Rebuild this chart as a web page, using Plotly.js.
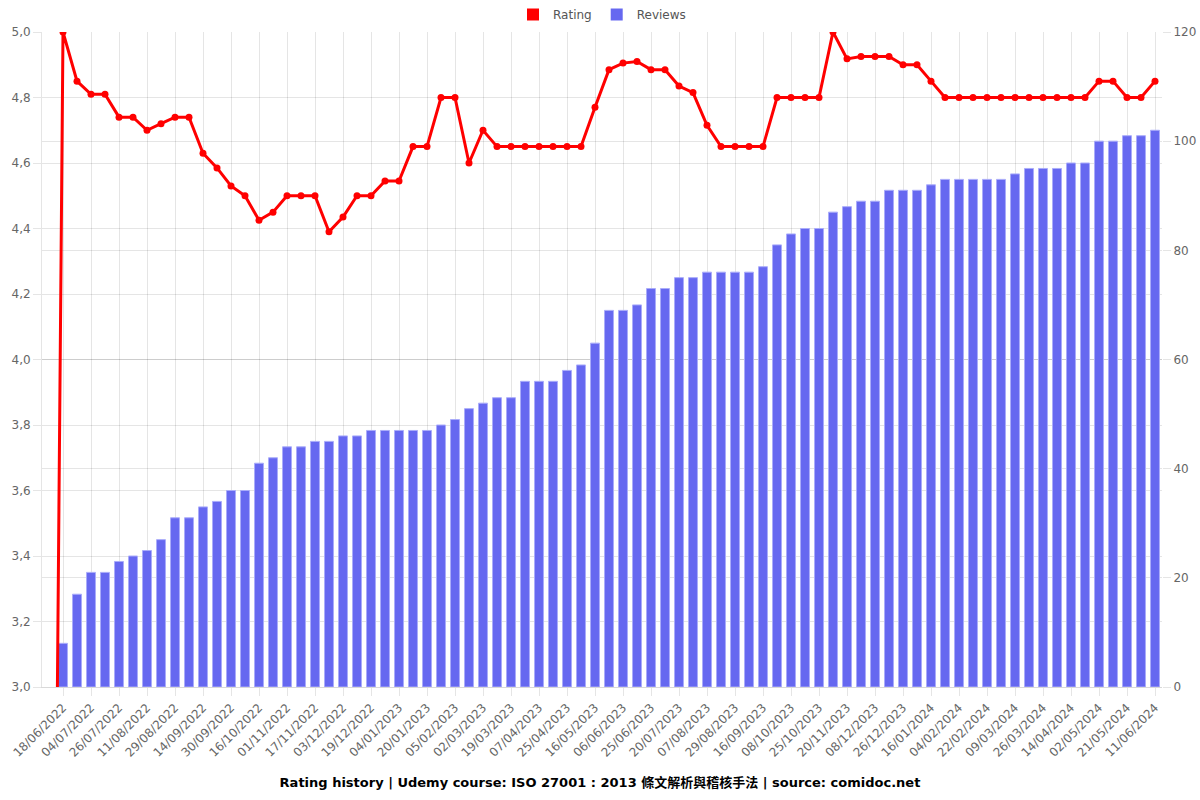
<!DOCTYPE html>
<html>
<head>
<meta charset="utf-8">
<script src="https://cdn.plot.ly/plotly-3.0.1.min.js"></script>
<style>
  html, body { margin: 0; padding: 0; background: #fff; }
  #chart { width: 1200px; height: 800px; }
</style>
</head>
<body>
<div id="chart"></div>
<script>
// Categories (dates). The first one is the course start point (rating 0, no reviews);
// tick labels are shown on every second category, as in the reference.
const dates = [
  "10/06/2022",
  "18/06/2022", "26/06/2022", "04/07/2022", "15/07/2022", "26/07/2022", "03/08/2022",
  "11/08/2022", "20/08/2022", "29/08/2022", "06/09/2022", "14/09/2022", "22/09/2022",
  "30/09/2022", "08/10/2022", "16/10/2022", "24/10/2022", "01/11/2022", "09/11/2022",
  "17/11/2022", "25/11/2022", "03/12/2022", "11/12/2022", "19/12/2022", "27/12/2022",
  "04/01/2023", "12/01/2023", "20/01/2023", "28/01/2023", "05/02/2023", "17/02/2023",
  "02/03/2023", "10/03/2023", "19/03/2023", "29/03/2023", "07/04/2023", "16/04/2023",
  "25/04/2023", "05/05/2023", "16/05/2023", "27/05/2023", "06/06/2023", "15/06/2023",
  "25/06/2023", "07/07/2023", "20/07/2023", "29/07/2023", "07/08/2023", "18/08/2023",
  "29/08/2023", "07/09/2023", "16/09/2023", "27/09/2023", "08/10/2023", "16/10/2023",
  "25/10/2023", "07/11/2023", "20/11/2023", "29/11/2023", "08/12/2023", "17/12/2023",
  "26/12/2023", "06/01/2024", "16/01/2024", "25/01/2024", "04/02/2024", "13/02/2024",
  "22/02/2024", "01/03/2024", "09/03/2024", "17/03/2024", "26/03/2024", "04/04/2024",
  "14/04/2024", "23/04/2024", "02/05/2024", "11/05/2024", "21/05/2024", "31/05/2024",
  "11/06/2024"
];

const ratings = [
  0,
  5.00, 4.85, 4.81, 4.81, 4.74, 4.74, 4.70, 4.72, 4.74, 4.74,
  4.63, 4.585, 4.53, 4.50, 4.425, 4.45, 4.50, 4.50, 4.50, 4.39,
  4.435, 4.50, 4.50, 4.545, 4.545, 4.65, 4.65, 4.80, 4.80, 4.60,
  4.70, 4.65, 4.65, 4.65, 4.65, 4.65, 4.65, 4.65, 4.77, 4.885,
  4.905, 4.91, 4.885, 4.885, 4.835, 4.815, 4.715, 4.65, 4.65, 4.65,
  4.65, 4.80, 4.80, 4.80, 4.80, 5.00, 4.918, 4.925, 4.925, 4.925,
  4.90, 4.90, 4.85, 4.80, 4.80, 4.80, 4.80, 4.80, 4.80, 4.80,
  4.80, 4.80, 4.80, 4.80, 4.85, 4.85, 4.80, 4.80, 4.85
];

const reviews = [
  null,
  8, 17, 21, 21, 23, 24, 25, 27, 31, 31,
  33, 34, 36, 36, 41, 42, 44, 44, 45, 45,
  46, 46, 47, 47, 47, 47, 47, 48, 49, 51,
  52, 53, 53, 56, 56, 56, 58, 59, 63, 69,
  69, 70, 73, 73, 75, 75, 76, 76, 76, 76,
  77, 81, 83, 84, 84, 87, 88, 89, 89, 91,
  91, 91, 92, 93, 93, 93, 93, 93, 94, 95,
  95, 95, 96, 96, 100, 100, 101, 101, 102
];

const tickDates = dates.filter((d, i) => i % 2 === 1);

const titleText = "Rating history | Udemy course: ISO 27001 : 2013 條文解析與稽核手法 | source: comidoc.net";

const ratingColor = "#ff0000";
const reviewColor = "rgb(102,104,240)";
const gridColor = "rgba(0,0,0,0.1)";
const tickFont = { family: "DejaVu Sans, sans-serif", size: 12, color: "#666" };

const traces = [
  // legend entries (box style, as in the reference); they carry no data
  { type: "bar", name: "Rating", x: [null], y: [null], yaxis: "y",
    marker: { color: ratingColor }, hoverinfo: "skip" },
  { type: "bar", name: "Reviews", x: [null], y: [null], yaxis: "y",
    marker: { color: reviewColor }, hoverinfo: "skip" },
  {
    type: "bar",
    name: "Reviews",
    showlegend: false,
    x: dates,
    y: reviews,
    yaxis: "y",
    marker: { color: reviewColor, line: { color: "rgba(170,172,250,1)", width: 1 } }
  },
  {
    type: "scatter",
    mode: "lines+markers",
    name: "Rating",
    showlegend: false,
    x: dates,
    y: ratings,
    yaxis: "y2",
    line: { color: ratingColor, width: 3 },
    marker: { color: ratingColor, size: 7 }
  }
];

const layout = {
  width: 1200,
  height: 800,
  paper_bgcolor: "#fff",
  plot_bgcolor: "#fff",
  separators: ",.",
  margin: { l: 42, r: 38, t: 32, b: 113, autoexpand: false },
  bargap: 0.36,
  barmode: "overlay",
  showlegend: true,
  legend: {
    orientation: "h",
    x: 0.5, xanchor: "center",
    y: 1, yanchor: "top", yref: "container",
    font: { family: "DejaVu Sans, sans-serif", size: 12, color: "#555" },
    traceorder: "normal"
  },
  title: {
    text: "<b>" + titleText + "</b>",
    x: 0.5, xanchor: "center",
    y: 0.022, yanchor: "middle", yref: "container",
    font: { family: "DejaVu Sans, Noto Sans CJK TC, sans-serif", size: 13, color: "#000" }
  },
  xaxis: {
    type: "category",
    categoryorder: "array",
    categoryarray: dates,
    range: [-0.5, dates.length - 0.5],
    autorange: false,
    automargin: false,
    tickmode: "array",
    tickvals: tickDates,
    ticktext: tickDates,
    tickangle: -45,
    tickfont: tickFont,
    ticks: "outside",
    ticklen: 8,
    tickcolor: gridColor,
    showgrid: true,
    gridcolor: gridColor,
    showline: true,
    linecolor: "rgba(0,0,0,0.15)",
    zeroline: false
  },
  yaxis: {
    side: "right",
    range: [0, 120],
    dtick: 20,
    automargin: false,
    tickfont: tickFont,
    ticks: "outside",
    ticklen: 8,
    tickcolor: gridColor,
    showgrid: true,
    gridcolor: gridColor,
    zeroline: false,
    showline: false
  },
  yaxis2: {
    overlaying: "y",
    side: "left",
    range: [3, 5],
    dtick: 0.2,
    automargin: false,
    tickformat: ".1f",
    tickfont: tickFont,
    ticks: "outside",
    ticklen: 8,
    tickcolor: gridColor,
    showgrid: true,
    gridcolor: gridColor,
    zeroline: false,
    showline: true,
    linecolor: "rgba(0,0,0,0.1)"
  }
};

Plotly.newPlot("chart", traces, layout, { displayModeBar: false, staticPlot: true });
</script>
</body>
</html>
